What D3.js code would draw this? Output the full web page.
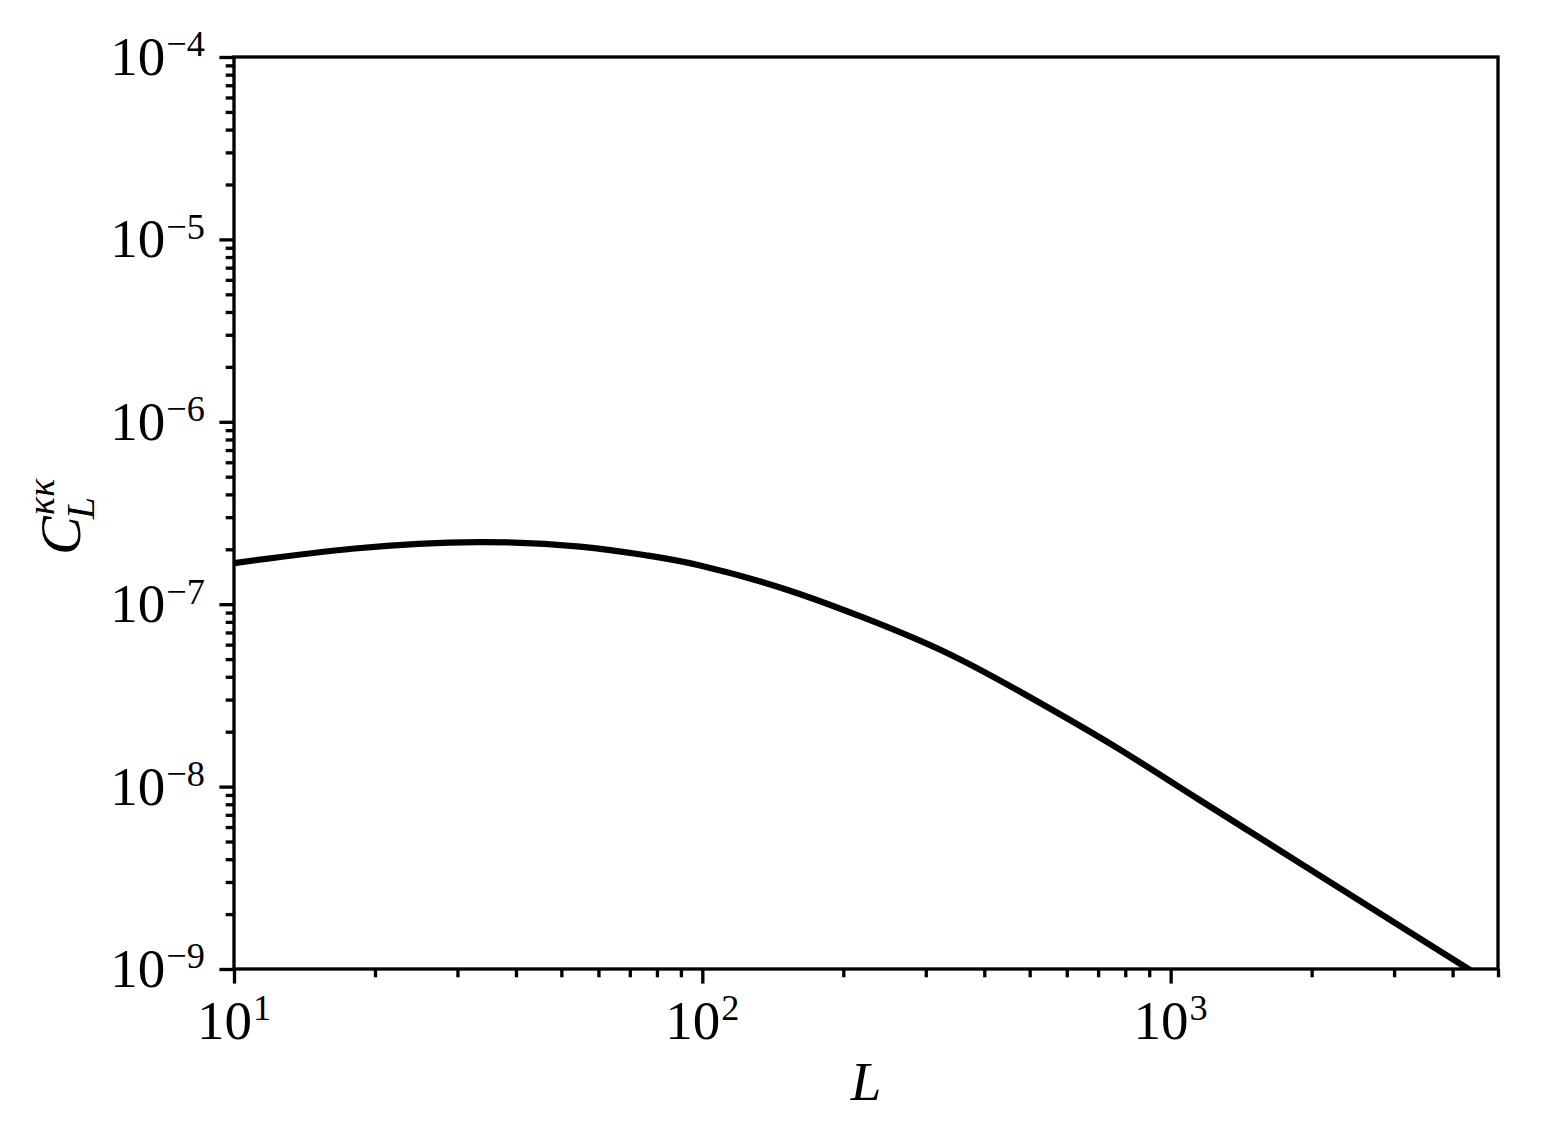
<!DOCTYPE html>
<html>
<head>
<meta charset="utf-8">
<script src="https://cdn.jsdelivr.net/npm/d3@7"></script>
<style>
  body { margin: 0; background: #fff; }
  svg text { font-family: "Liberation Serif", "DejaVu Serif", serif; fill: #000; }
</style>
</head>
<body>
<div id="chart"></div>
<script>
// multipole L and lensing convergence power
const ells = [10, 18.1, 33.2, 54.8, 76.2, 98.9, 148.7, 224.7, 336.5, 508.6, 768.6, 1144, 1888, 3090, 4296, 5000];
const clkk = [1.68e-7, 2.02e-7, 2.19e-7, 2.07e-7, 1.85e-7, 1.63e-7, 1.22e-7, 8.30e-8, 5.33e-8, 3.02e-8, 1.63e-8, 8.55e-9, 3.81e-9, 1.72e-9, 1.01e-9, 7.9e-10];

const xExps = [1, 2, 3];
const yExps = [-9, -8, -7, -6, -5, -4];
const xDomain = [10, 5000];
const yDomain = [1e-9, 1e-4];

const W = 1560, H = 1140;
const mLeft = 234, mRight = 1498, mTop = 57, mBottom = 969;
const lw = 3.33, major = 14.6, minor = 8.3;
const fs = 55;

const svg = d3.select("#chart")
    .append("svg")
    .attr("width", W)
    .attr("height", H)
    .attr("viewBox", [0, 0, W, H]);

const x = d3.scaleLog().domain(xDomain).range([mLeft, mRight]);
const y = d3.scaleLog().domain(yDomain).range([mBottom, mTop]);

// minor ticks: 2..9 per decade inside the domain
function minors(dom) {
    const out = [];
    const lo = Math.floor(Math.log10(dom[0])), hi = Math.ceil(Math.log10(dom[1]));
    for (let e = lo; e < hi; e++) {
        for (let m = 2; m <= 9; m++) {
            const v = m * Math.pow(10, e);
            if (v >= dom[0] * 0.999 && v <= dom[1] * 1.001) out.push(v);
        }
    }
    return out;
}

svg.append("clipPath").attr("id", "clip")
    .append("rect")
    .attr("x", mLeft).attr("y", mTop)
    .attr("width", mRight - mLeft).attr("height", mBottom - mTop);

const line = d3.line()
    .x(d => x(d[0]))
    .y(d => y(d[1]))
    .curve(d3.curveNatural);

svg.append("path")
    .datum(ells.map((l, i) => [l, clkk[i]]))
    .attr("clip-path", "url(#clip)")
    .attr("fill", "none")
    .attr("stroke", "#000")
    .attr("stroke-width", 6.25)
    .attr("stroke-linejoin", "round")
    .attr("d", line);

// x axis
const xMajor = xExps.map(e => Math.pow(10, e));
const gx = svg.append("g").attr("transform", `translate(0,${mBottom})`);
gx.call(d3.axisBottom(x).tickValues(xMajor).tickSize(major).tickSizeOuter(0).tickFormat(""));
gx.append("g").call(d3.axisBottom(x).tickValues(minors(xDomain)).tickSize(minor).tickSizeOuter(0).tickFormat(""));

// y axis
const yMajor = yExps.map(e => Math.pow(10, e));
const gy = svg.append("g").attr("transform", `translate(${mLeft},0)`);
gy.call(d3.axisLeft(y).tickValues(yMajor).tickSize(major).tickSizeOuter(0).tickFormat(""));
gy.append("g").call(d3.axisLeft(y).tickValues(minors(yDomain)).tickSize(minor).tickSizeOuter(0).tickFormat(""));

svg.selectAll(".tick line").attr("stroke", "#000").attr("stroke-width", lw);
svg.selectAll(".domain").remove();

// frame
svg.append("rect")
    .attr("x", mLeft).attr("y", mTop)
    .attr("width", mRight - mLeft).attr("height", mBottom - mTop)
    .attr("fill", "none")
    .attr("stroke", "#000")
    .attr("stroke-width", lw)
    .attr("stroke-linejoin", "miter");

// power-of-ten labels
function powLabel(g, exp) {
    const t = g.append("text").style("font-size", fs + "px");
    t.append("tspan").text("10");
    t.append("tspan")
        .attr("dx", 1)
        .attr("dy", -0.34 * fs)
        .style("font-size", (0.66 * fs) + "px")
        .text(String(exp).replace("-", "\u2212"));
    return t;
}

xExps.forEach(e => {
    const g = svg.append("g").attr("transform", `translate(${x(Math.pow(10, e))},${mBottom + 70})`);
    const t = powLabel(g, e);
    const w = t.node().getBBox().width;
    t.attr("x", -w / 2);
});

yExps.forEach(e => {
    const g = svg.append("g").attr("transform", `translate(${mLeft - major - 14.6},${y(Math.pow(10, e)) + 18})`);
    const t = powLabel(g, e);
    const w = t.node().getBBox().width;
    t.attr("x", -w);
});

// axis titles
svg.append("text")
    .attr("x", (mLeft + mRight) / 2)
    .attr("y", 1100)
    .attr("text-anchor", "middle")
    .style("font-size", fs + "px")
    .style("font-style", "italic")
    .text("L");

const yl = svg.append("g").attr("transform", `translate(80,${(mTop + mBottom) / 2}) rotate(-90)`);
const cT = yl.append("text")
    .attr("x", -42)
    .style("font-size", "58px")
    .style("font-style", "italic")
    .text("C");
const cW = cT.node().getComputedTextLength();
yl.append("text")
    .attr("x", -42 + cW - 3)
    .attr("y", 14)
    .style("font-size", "40px")
    .style("font-style", "italic")
    .text("L");
yl.append("text")
    .attr("x", -42 + cW + 1)
    .attr("y", -26)
    .style("font-size", "38px")
    .style("font-style", "italic")
    .text("κκ");
</script>
</body>
</html>
